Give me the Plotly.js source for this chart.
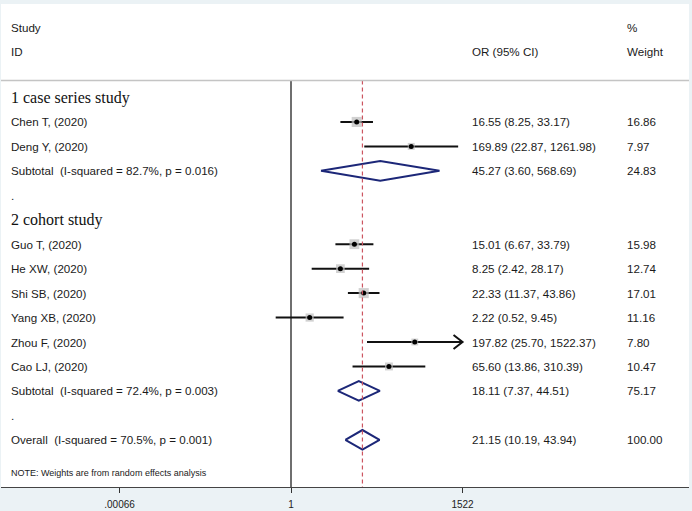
<!DOCTYPE html>
<html>
<head>
<meta charset="utf-8">
<script src="https://cdn.plot.ly/plotly-3.0.1.min.js"></script>
<style>html,body{margin:0;padding:0;background:#ebf2f5;}#chart{width:692px;height:511px;}</style>
</head>
<body>
<div id="chart"></div>
<script>
// ---- data ----
const studies = ["Chen T, (2020)", "Deng Y, (2020)", "Guo T, (2020)", "He XW, (2020)", "Shi SB, (2020)", "Yang XB, (2020)", "Zhou F, (2020)", "Cao LJ, (2020)"];
const studyGroup = [1, 1, 2, 2, 2, 2, 2, 2];
const orVals = [16.55, 169.89, 15.01, 8.25, 22.33, 2.22, 197.82, 65.60];
const ciLow = [8.25, 22.87, 6.67, 2.42, 11.37, 0.52, 25.70, 13.86];
const ciHigh = [33.17, 1261.98, 33.79, 28.17, 43.86, 9.45, 1522.37, 310.39];
const weights = [16.86, 7.97, 15.98, 12.74, 17.01, 11.16, 7.80, 10.47];

const groupNames = ["1 case series study", "2 cohort study"];
const subLabels = ["Subtotal\u00a0 (I-squared = 82.7%, p = 0.016)", "Subtotal\u00a0 (I-squared = 72.4%, p = 0.003)"];
const subOR = [45.27, 18.11];
const subLow = [3.60, 7.37];
const subHigh = [568.69, 44.51];
const subWeight = [24.83, 75.17];

const overallLabel = "Overall\u00a0 (I-squared = 70.5%, p = 0.001)";
const overallOR = 21.15, overallLow = 10.19, overallHigh = 43.94, overallWeight = 100.00;

const tickVals = [0.00066, 1, 1522];
const tickText = [".00066", "1", "1522"];
const noteText = "NOTE: Weights are from random effects analysis";

// ---- layout geometry ----
const W = 692, H = 511;
const M = {l: 1, r: 3, t: 4, b: 24};
const plotW = W - M.l - M.r;
const ROW0 = 97.5, STEP = 24.45;           // pixel of row 0 and row spacing
const rowOf = px => (px - ROW0) / STEP;
const PXDEC = 53.9, PX1 = 291;             // px per decade, px of OR=1
const xr = [(M.l - PX1) / PXDEC, (W - M.r - PX1) / PXDEC];
const yr = [rowOf(H - M.b), rowOf(M.t)];
const paperX = px => (px - M.l) / plotW;
const axisMax = tickVals[tickVals.length - 1];

// build row assignments
const rows = [];
let r = 0;
const studyRow = [];
const subRow = [];
groupNames.forEach((g, gi) => {
  rows.push({y: r++, label: g, serif: true});
  studies.forEach((s, i) => {
    if (studyGroup[i] === gi + 1) {
      studyRow[i] = r;
      rows.push({y: r++, label: s, or: orVals[i], lo: ciLow[i], hi: ciHigh[i], w: weights[i]});
    }
  });
  subRow[gi] = r;
  rows.push({y: r++, label: subLabels[gi], or: subOR[gi], lo: subLow[gi], hi: subHigh[gi], w: subWeight[gi]});
  rows.push({y: r++, label: "."});
});
const overallRow = r;
rows.push({y: r++, label: overallLabel, or: overallOR, lo: overallLow, hi: overallHigh, w: overallWeight});

const sepRow = rowOf(80.5);
const bottomRow = yr[0];

const traces = [];
// null line
traces.push({x: [1, 1], y: [sepRow, bottomRow], mode: "lines", line: {color: "#6f6f6f", width: 2}, hoverinfo: "skip"});
// CI lines
const cx = [], cy = [];
studies.forEach((s, i) => {
  cx.push(ciLow[i], Math.min(ciHigh[i], axisMax), null);
  cy.push(studyRow[i], studyRow[i], null);
});
traces.push({x: cx, y: cy, mode: "lines", line: {color: "#111", width: 2}, hoverinfo: "skip"});
// weight squares
traces.push({
  x: orVals, y: studyRow, mode: "markers",
  marker: {symbol: "square", size: weights.map(w => 2.45 * Math.sqrt(w)), color: "#bdbdbd", line: {width: 0}},
  hoverinfo: "skip"
});
// point dots
traces.push({x: orVals, y: studyRow, mode: "markers", marker: {symbol: "circle", size: 5, color: "#000"}, hoverinfo: "skip"});
// diamonds
const dx = [], dy = [];
const HALF = 0.4;
function diamond(o, lo, hi, y) {
  dx.push(lo, o, hi, o, lo, null);
  dy.push(y, y - HALF, y, y + HALF, y, null);
}
subOR.forEach((o, gi) => diamond(o, subLow[gi], subHigh[gi], subRow[gi]));
diamond(overallOR, overallLow, overallHigh, overallRow);
traces.push({x: dx, y: dy, mode: "lines", line: {color: "#1c2778", width: 2}, hoverinfo: "skip"});
// overall dashed line
traces.push({x: [overallOR, overallOR], y: [sepRow, bottomRow], mode: "lines", line: {color: "#cc5560", width: 1.2, dash: "4px,3px"}, hoverinfo: "skip"});

// annotations
const ann = [];
const txtFont = {family: "Liberation Sans, Arial, sans-serif", size: 11.6, color: "#1a1a1a"};
function addText(px, y, text, font) {
  ann.push({xref: "paper", yref: "y", x: paperX(px), y: y, text: text, showarrow: false,
            xanchor: "left", yanchor: "middle", font: font || txtFont, borderpad: 0});
}
const fmt = v => v.toFixed(2);
addText(10, rowOf(27), "Study");
addText(10, rowOf(51.5), "ID");
addText(471, rowOf(51.5), "OR (95% CI)");
addText(626, rowOf(27), "%");
addText(626, rowOf(51.5), "Weight");
rows.forEach(row => {
  if (row.serif) {
    addText(10, row.y, row.label, {family: "Liberation Serif, Times New Roman, serif", size: 16, color: "#111"});
  } else {
    addText(10, row.y, row.label);
  }
  if (row.or !== undefined) {
    addText(471, row.y, fmt(row.or) + " (" + fmt(row.lo) + ", " + fmt(row.hi) + ")");
    addText(626, row.y, fmt(row.w));
  }
});
addText(10, rowOf(473), noteText, {family: "Liberation Sans, Arial, sans-serif", size: 9, color: "#1a1a1a"});

const shapes = [
  {type: "line", xref: "paper", yref: "y", x0: 0, x1: 1, y0: sepRow, y1: sepRow, line: {color: "#c4c4c4", width: 1.5}}
];
// arrow for CIs beyond the axis maximum
studies.forEach((s, i) => {
  if (ciHigh[i] > axisMax) {
    shapes.push({type: "path", xref: "x", yref: "y", xsizemode: "pixel", ysizemode: "pixel",
      xanchor: axisMax, yanchor: studyRow[i],
      path: "M -9,7 L 0,0 L -9,-7", line: {color: "#111", width: 2}});
  }
});

const layout = {
  width: W, height: H,
  margin: M,
  paper_bgcolor: "#ebf2f5",
  plot_bgcolor: "#ffffff",
  showlegend: false,
  xaxis: {type: "log", range: xr, tickvals: tickVals, ticktext: tickText, ticks: "outside", ticklen: 5, tickwidth: 1,
          tickcolor: "#333", showline: true, linecolor: "#444", linewidth: 1, showgrid: false, zeroline: false,
          ticklabelstandoff: 3,
          tickfont: {family: "Liberation Sans, Arial, sans-serif", size: 10, color: "#222"}, fixedrange: true},
  yaxis: {range: yr, visible: false, showgrid: false, zeroline: false, fixedrange: true},
  annotations: ann,
  shapes: shapes
};
Plotly.newPlot("chart", traces, layout, {displayModeBar: false, staticPlot: true});
</script>
</body>
</html>
